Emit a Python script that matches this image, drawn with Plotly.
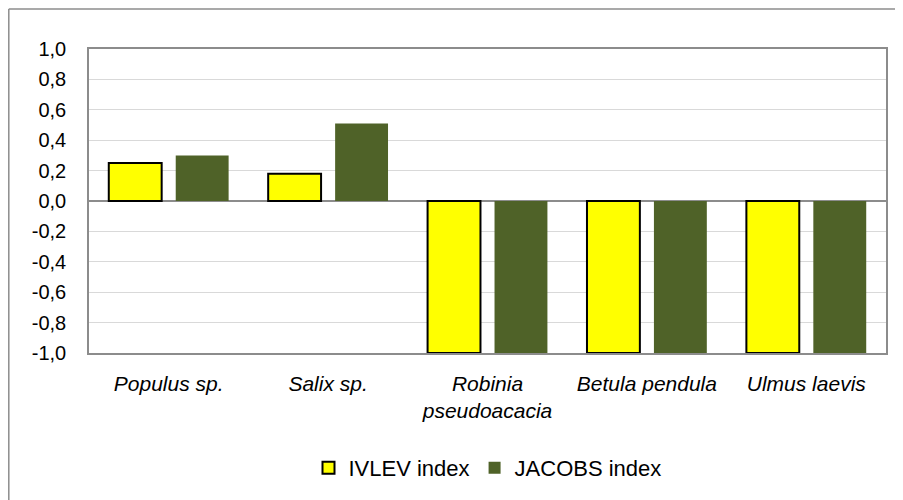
import plotly.graph_objects as go

categories = ["Populus sp.", "Salix sp.", "Robinia<br>pseudoacacia", "Betula pendula", "Ulmus laevis"]
ivlev = [0.25, 0.18, -1.0, -1.0, -1.0]
jacobs = [0.30, 0.51, -1.0, -1.0, -1.0]
y_ticks = [-1.0, -0.8, -0.6, -0.4, -0.2, 0.0, 0.2, 0.4, 0.6, 0.8, 1.0]
y_tick_labels = ["-1,0", "-0,8", "-0,6", "-0,4", "-0,2", "0,0", "0,2", "0,4", "0,6", "0,8", "1,0"]

FONT = "Liberation Sans, Arial, sans-serif"

fig = go.Figure()
fig.add_trace(go.Bar(
    x=categories, y=ivlev, name="IVLEV index",
    marker=dict(color="#FFFF00", line=dict(color="#000000", width=2)),
))
fig.add_trace(go.Bar(
    x=categories, y=jacobs, name="JACOBS index",
    marker=dict(color="#4F6228", line=dict(width=0)),
))

bx0 = -80.2 / 797
by1 = 1 + 40.2 / 305
border = dict(color="#8c8c8c", width=1.5)

fig.update_layout(
    width=895, height=492,
    margin=dict(l=81, r=17, t=41, b=146),
    paper_bgcolor="white", plot_bgcolor="white",
    barmode="group", bargap=0.16, bargroupgap=0.21,
    font=dict(family=FONT, size=20, color="#000000"),
    showlegend=True,
    legend=dict(orientation="h", x=0.5, xanchor="center", y=-0.374, yanchor="middle",
                font=dict(family=FONT, size=22, color="#000000"),
                itemwidth=30, traceorder="normal"),
    xaxis=dict(
        showgrid=False, showline=True, linecolor="#8c8c8c", linewidth=1.5, mirror=True,
        ticks="", tickfont=dict(family=FONT, size=21, style="italic"),
        ticklabelstandoff=11,
    ),
    yaxis=dict(
        range=[-1.0, 1.0], tickvals=y_ticks, ticktext=y_tick_labels,
        showgrid=True, gridcolor="#d9d9d9", gridwidth=1,
        zeroline=True, zerolinecolor="#8c8c8c", zerolinewidth=1.5,
        showline=True, linecolor="#8c8c8c", linewidth=1.5, mirror=True,
        ticks="", ticklabelstandoff=17,
        tickfont=dict(family=FONT, size=20),
    ),
    shapes=[
        dict(type="line", xref="paper", yref="paper", x0=bx0, x1=bx0, y0=-0.6, y1=by1,
             line=border, layer="below"),
        dict(type="line", xref="paper", yref="paper", x0=bx0, x1=1.1, y0=by1, y1=by1,
             line=border, layer="below"),
    ],
)

fig.write_html("out.html")
